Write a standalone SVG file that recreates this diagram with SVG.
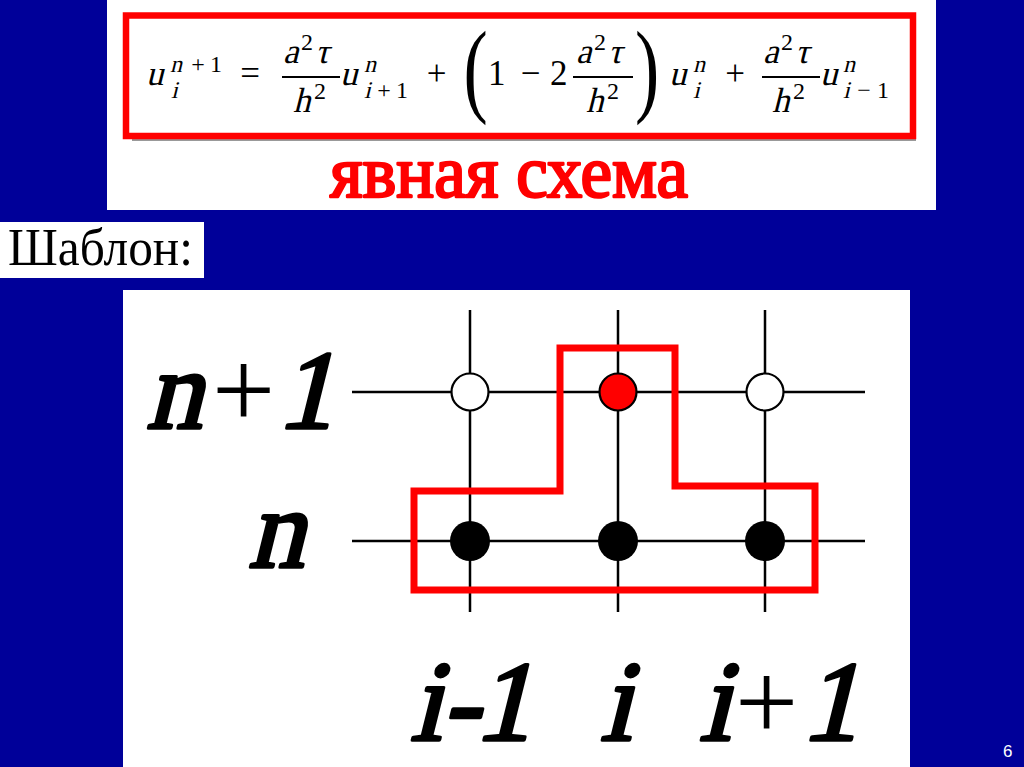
<svg xmlns="http://www.w3.org/2000/svg" width="1024" height="767" viewBox="0 0 1024 767">
<style>
text{font-family:"Liberation Serif","Times New Roman",serif;font-weight:normal;font-style:normal;fill:#000}
.m{font-size:35px}
.s{font-size:24px}
.lbl{font-size:112px;stroke:#000;stroke-width:3.5;stroke-linejoin:round}
.lb2{font-size:114px;stroke:#000;stroke-width:3.5;stroke-linejoin:round}
.pl{font-size:112px}
.grid line{stroke:#000;stroke-width:2.5}
.fb{stroke:#000;stroke-width:1.8}
</style>
<rect x="0" y="0" width="1024" height="767" fill="#000099"/>

<g id="formula-panel">
<rect x="107" y="0" width="829" height="210" fill="#fff"/>
<line x1="132" y1="140" x2="916" y2="140" stroke="#999" stroke-width="2"/>
<rect x="126" y="15.5" width="787" height="120.5" fill="none" stroke="#ff0000" stroke-width="6.5"/>
<g id="formula">
<text class="m" transform="translate(146,85) skewX(-14)">u</text>
<text class="s" transform="translate(170,72) skewX(-14)">n</text>
<text class="s" x="198" y="72" text-anchor="middle">+</text>
<text class="s" x="210" y="72">1</text>
<text class="s" transform="translate(171,98) skewX(-14)">i</text>
<text class="m" x="250" y="85" text-anchor="middle">=</text>

<text class="m" transform="translate(283,63) skewX(-14)">a</text><text class="s" x="301" y="50">2</text><text class="m" transform="translate(315,63) skewX(-14)">τ</text>
<line class="fb" x1="282" y1="77" x2="340" y2="77"/>
<text class="m" transform="translate(293,112) skewX(-14)">h</text><text class="s" x="314" y="99">2</text>

<text class="m" transform="translate(340,85) skewX(-14)">u</text>
<text class="s" transform="translate(364,72) skewX(-14)">n</text>
<text class="s" transform="translate(364,98) skewX(-14)">i</text>
<text class="s" x="384" y="98" text-anchor="middle">+</text>
<text class="s" x="396" y="98">1</text>

<text class="m" x="436.5" y="85" text-anchor="middle">+</text>
<g transform="translate(467,0) scale(0.7,1)"><text class="m" style="font-size:104px" x="-5" y="103">(</text></g>
<text class="m" x="488" y="85">1</text>
<text class="m" x="530.5" y="85" text-anchor="middle">−</text>
<text class="m" x="550" y="85">2</text>
<text class="m" transform="translate(576,63) skewX(-14)">a</text><text class="s" x="594" y="50">2</text><text class="m" transform="translate(608,63) skewX(-14)">τ</text>
<line class="fb" x1="573" y1="77" x2="633" y2="77"/>
<text class="m" transform="translate(586,112) skewX(-14)">h</text><text class="s" x="607" y="99">2</text>
<g transform="translate(637,0) scale(0.7,1)"><text class="m" style="font-size:104px" x="-3" y="103">)</text></g>

<text class="m" transform="translate(669,85) skewX(-14)">u</text>
<text class="s" transform="translate(693,72) skewX(-14)">n</text>
<text class="s" transform="translate(693,98) skewX(-14)">i</text>
<text class="m" x="735" y="85" text-anchor="middle">+</text>

<text class="m" transform="translate(763,63) skewX(-14)">a</text><text class="s" x="781" y="50">2</text><text class="m" transform="translate(795,63) skewX(-14)">τ</text>
<line class="fb" x1="762" y1="77" x2="820" y2="77"/>
<text class="m" transform="translate(772,112) skewX(-14)">h</text><text class="s" x="793" y="99">2</text>
<text class="m" transform="translate(820,85) skewX(-14)">u</text>
<text class="s" transform="translate(843,72) skewX(-14)">n</text>
<text class="s" transform="translate(843,98) skewX(-14)">i</text>
<text class="s" x="864" y="98" text-anchor="middle">−</text>
<text class="s" x="877" y="98">1</text>
</g>
<text id="title" x="330" y="197" textLength="358" lengthAdjust="spacingAndGlyphs" style="font-size:74px;fill:#ff0000;stroke:#ff0000;stroke-width:2.5;stroke-linejoin:round">явная схема</text>
</g>

<g id="template-label">
<rect x="0" y="222" width="204" height="56" fill="#fff"/>
<text x="8" y="265" textLength="185" lengthAdjust="spacingAndGlyphs" style="font-size:53px">Шаблон:</text>
</g>

<rect x="123" y="290" width="787" height="477" fill="#fff"/>

<g id="connectors" class="grid">
<line x1="352" y1="392" x2="865" y2="392"/>
<line x1="352" y1="541" x2="865" y2="541"/>
<line x1="470" y1="310" x2="470" y2="612"/>
<line x1="618" y1="310" x2="618" y2="612"/>
<line x1="765" y1="310" x2="765" y2="612"/>
</g>

<g id="stencil">
<polygon points="414,491 560,491 560,348 675,348 675,486 815,486 815,590 414,590" fill="none" stroke="#ff0000" stroke-width="7"/>
</g>

<g id="node-n1-im1"><circle cx="470" cy="392" r="18.5" fill="#fff" stroke="#000" stroke-width="2.2"/></g>
<g id="node-n1-i"><circle cx="618" cy="392" r="18.5" fill="#ff0000" stroke="#000" stroke-width="2.2"/></g>
<g id="node-n1-ip1"><circle cx="765" cy="392" r="18.5" fill="#fff" stroke="#000" stroke-width="2.2"/></g>
<g id="node-n-im1"><circle cx="470" cy="541" r="20" fill="#000"/></g>
<g id="node-n-i"><circle cx="618" cy="541" r="20" fill="#000"/></g>
<g id="node-n-ip1"><circle cx="765" cy="541" r="20" fill="#000"/></g>

<g id="axis-labels">
<text class="lbl" transform="translate(146,428) skewX(-14)">n</text>
<text class="pl" x="212" y="428">+</text>
<text class="lbl" transform="translate(277,428) skewX(-14)">1</text>
<text class="lbl" transform="translate(248,567) skewX(-14)">n</text>
<text class="lb2" transform="translate(410,740) skewX(-14)">i</text>
<text class="lb2" transform="translate(441,740) skewX(-14)">-</text>
<text class="lb2" transform="translate(474,740) skewX(-14)">1</text>
<text class="lb2" transform="translate(600,740) skewX(-14)">i</text>
<text class="lb2" transform="translate(699,740) skewX(-14)">i</text>
<text class="pl" x="735" y="740">+</text>
<text class="lb2" transform="translate(801,740) skewX(-14)">1</text>
</g>

<text x="1003" y="757" style="font-family:'Liberation Sans',sans-serif;font-size:17px;fill:#fff">6</text>
</svg>
